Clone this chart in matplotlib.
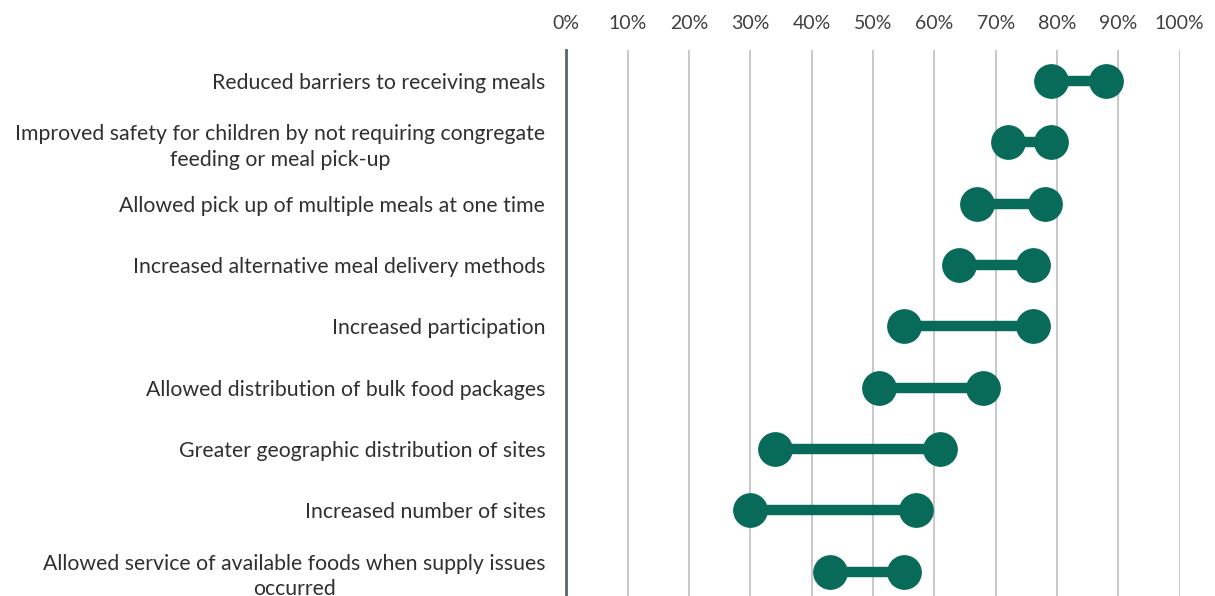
import numpy as np
import matplotlib.pyplot as plt

categories = [
    "Reduced barriers to receiving meals",
    "Improved safety for children by not requiring congregate\nfeeding or meal pick-up",
    "Allowed pick up of multiple meals at one time",
    "Increased alternative meal delivery methods",
    "Increased participation",
    "Allowed distribution of bulk food packages",
    "Greater geographic distribution of sites",
    "Increased number of sites",
    "Allowed service of available foods when supply issues\noccurred",
]
low = [79, 72, 67, 64, 55, 51, 34, 30, 43]
high = [88, 79, 78, 76, 76, 68, 61, 57, 55]

green = "#086B5A"

plt.rcParams['font.family'] = ['Lato', 'DejaVu Sans']

fig = plt.figure(figsize=(12.15, 5.96), dpi=100)
ax = fig.add_axes([0.466, -0.011, 0.505, 0.927])

y = np.arange(len(categories))
for i in range(len(categories)):
    ax.plot([low[i], high[i]], [y[i], y[i]], color=green, lw=7.5,
            solid_capstyle='butt', zorder=3)
ax.plot(low, y, 'o', color=green, ms=24, zorder=4)
ax.plot(high, y, 'o', color=green, ms=24, zorder=4)

ax.set_xlim(0, 100)
ax.set_ylim(len(categories) - 0.5, -0.5)
ax.set_xticks(np.arange(0, 101, 10))
ax.set_xticklabels([f"{v}%" for v in range(0, 101, 10)])
ax.xaxis.tick_top()
ax.tick_params(axis='x', length=0, pad=13, labelsize=14, colors='#404040')
ax.set_yticks(y)
ax.set_yticklabels(categories, multialignment='center', linespacing=1.35)
ax.tick_params(axis='y', length=0, pad=15, labelsize=15.3, colors='#303030')
for v in range(10, 101, 10):
    ax.axvline(v, color='#BFBFBF', lw=1.2, zorder=1)
for s in ['top', 'right', 'bottom']:
    ax.spines[s].set_visible(False)
ax.spines['left'].set_color('#59636B')
ax.spines['left'].set_linewidth(2)

fig.savefig("out.png", dpi=100)
